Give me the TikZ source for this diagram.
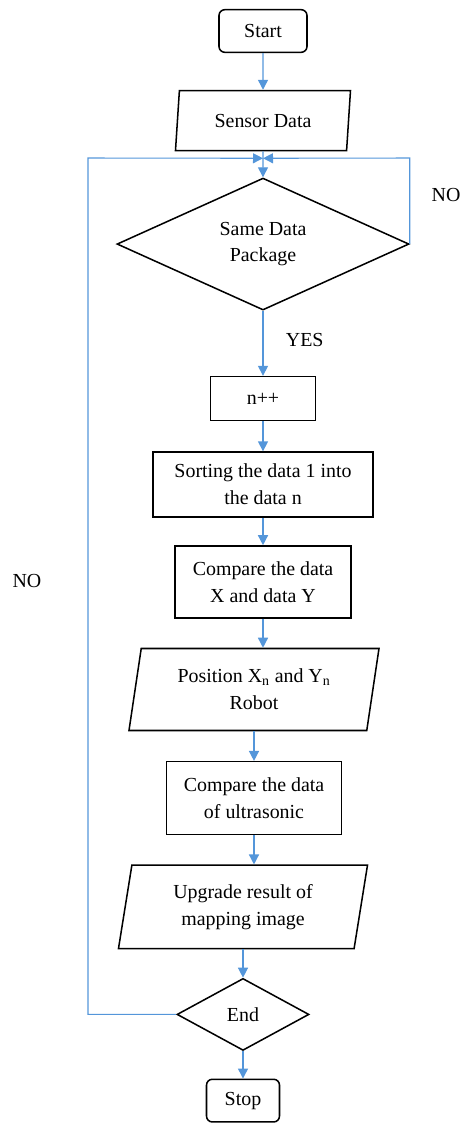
\documentclass[tikz,border=0pt]{standalone}
\usepackage{fontspec}
\setmainfont{Liberation Serif}
\usetikzlibrary{positioning,shapes.geometric,arrows.meta}
\definecolor{flowblue}{RGB}{84,150,218}

\begin{document}
\begin{tikzpicture}[every node/.style={font=\fontsize{17}{23}\selectfont, align=center},
  box/.style={draw, line width=1.3pt, minimum width=#1, inner sep=2pt},
  term/.style={draw, line width=1.3pt, rounded corners=5pt, minimum height=1.28cm},
  io/.style={draw, line width=1.3pt, trapezium, trapezium left angle=#1, trapezium right angle=180-#1, trapezium stretches body, inner sep=2pt},
  cond/.style={draw, line width=1.3pt, diamond, inner sep=0pt},
  flow/.style={draw=flowblue, line width=1.2pt, -{Triangle[length=0.3cm, width=0.3cm]}},
  back/.style={draw=flowblue, line width=0.9pt, -{Triangle[length=0.3cm, width=0.3cm]}}]
\useasboundingbox (0,0) rectangle (13.92,-33.78);

\node[term, minimum width=2.64cm] (start) at (7.89,-0.93) {Start};
\node[io=77.8, minimum width=5.25cm, minimum height=1.8cm, below=1.1cm of start] (sensor) {Sensor Data};
\node[cond, minimum width=8.76cm, minimum height=3.96cm, below=0.78cm of sensor] (same) {Same Data\\Package};
\node[box=3.15cm, minimum height=1.32cm, below=1.95cm of same] (inc) {n++};
\node[box=6.6cm, minimum height=1.95cm, below=0.9cm of inc] (sort) {Sorting the data 1 into\\the data n};
\node[box=5.28cm, minimum height=2.16cm, below=0.82cm of sort] (cmpxy) {Compare the data\\X and data Y};
\node[io=75, minimum width=7.5cm, minimum height=2.46cm, below=0.87cm of cmpxy, xshift=-0.27cm] (pos) {Position X\textsubscript{n} and Y\textsubscript{n}\\Robot};
\node[box=5.25cm, minimum height=2.19cm, below=0.89cm of pos] (cmpus) {Compare the data\\of ultrasonic};
\node[io=75, minimum width=7.47cm, minimum height=2.5cm, below=0.87cm of cmpus, xshift=-0.33cm] (upg) {Upgrade result of\\mapping image};
\node[cond, minimum width=3.96cm, minimum height=2.16cm, below=0.85cm of upg] (finish) {End};
\node[term, minimum width=2.19cm, below=0.82cm of finish] (stop) {Stop};

\coordinate (junc) at ([yshift=-0.21cm]sensor.south);
\coordinate (rtop) at (12.36,-4.74);
\coordinate (ltop) at (2.64,-4.74);

\draw[flow] (start) -- (sensor);
\draw[flow] (sensor) -- (same);
\draw[flow] (same) -- (inc) node[pos=0.45, right=0.55cm] {YES};
\draw[flow] (inc) -- (sort);
\draw[flow] (sort) -- (cmpxy);
\draw[flow] (cmpxy) -- (cmpxy |- pos.north);
\draw[flow] (pos.south -| cmpus.north) -- (cmpus);
\draw[flow] (cmpus) -- (cmpus |- upg.north);
\draw[flow] (upg.south -| finish.north) -- (finish);
\draw[flow] (finish) -- (stop);

% loops back to the check
\draw[back] (same.east) -- (same.east |- rtop) -- (junc);
\draw[back] (finish.west) -- (finish.west -| ltop) -- (ltop) -- (junc);
\node (noright) at (13.38,-5.85) {NO};
\node (noleft) at (0.81,-17.43) {NO};
\end{tikzpicture}
\end{document}
